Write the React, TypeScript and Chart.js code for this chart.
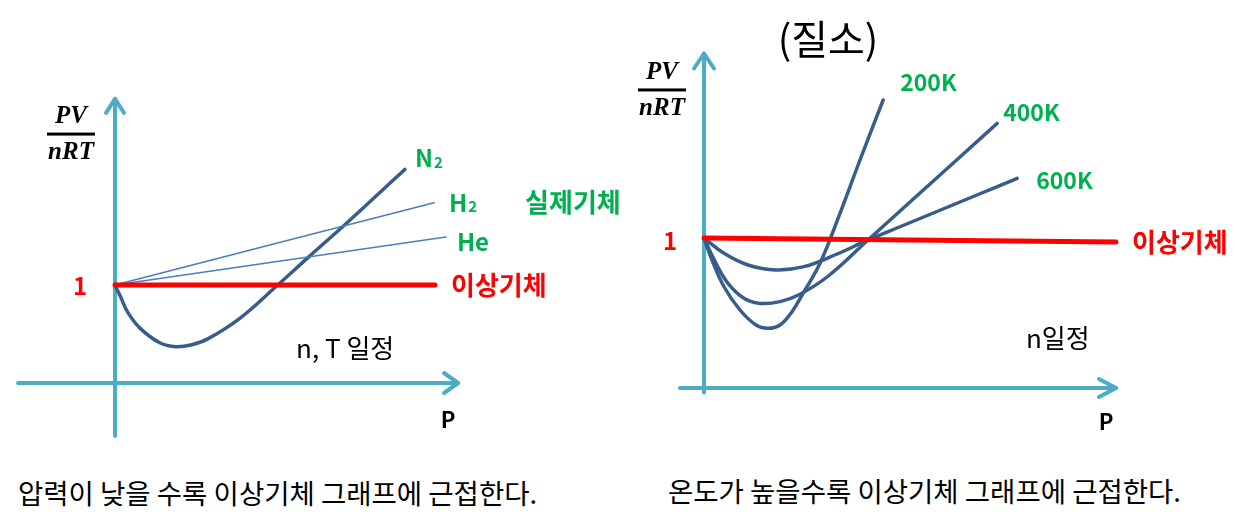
import React, { useRef, useEffect } from "react";
import { Chart, registerables } from "chart.js";

Chart.register(...registerables);

// left panel (n, T constant): P on x, PV/nRT on y
const n2P = [0, 0.16, 0.4, 0.78, 1.4, 1.9, 2.4, 2.9, 3.9, 5.05, 6.1, 7.2, 8.1, 9.06];
const n2Z = [1, 0.89, 0.72, 0.56, 0.41, 0.37, 0.39, 0.45, 0.66, 0.99, 1.3, 1.62, 1.89, 2.18];
const h2P = [0, 9.97];
const h2Z = [1, 1.84];
const heP = [0, 10.34];
const heZ = [1, 1.49];
const idealLeftP = [0, 10];
const idealLeftZ = [1, 1];

// right panel (nitrogen, n constant)
const t200P = [0, 0.2, 0.5, 0.9, 1.3, 1.6, 1.9, 2.2, 2.5, 2.9, 3.4, 3.9, 4.48];
const t200Z = [1, 0.853, 0.675, 0.52, 0.42, 0.398, 0.42, 0.509, 0.642, 0.831, 1.164, 1.52, 1.92];
const t400P = [0, 0.3, 0.6, 1.0, 1.4, 1.9, 2.4, 3.1, 4.1, 5.4, 7.33];
const t400Z = [1, 0.831, 0.698, 0.598, 0.564, 0.576, 0.625, 0.745, 0.987, 1.3, 1.764];
const t600P = [0, 0.5, 1.1, 1.8, 2.5, 3.3, 4.1, 4.9, 5.9, 6.9, 7.83];
const t600Z = [1, 0.898, 0.82, 0.787, 0.809, 0.89, 0.987, 1.075, 1.185, 1.295, 1.398];
const idealRightP = [0, 10.3];
const idealRightZ = [1, 0.973];

const CURVE = "#385D8A";
const THIN = "#4A7EBB";
const RED = "#FF0000";
const GREEN = "#00B050";
const AXIS = "#4BACC6";
const KR = '"Noto Sans CJK KR", "Noto Sans", sans-serif';

const pts = (xs: number[], ys: number[]) => xs.map((x, i) => ({ x, y: ys[i] }));

const line = (xs: number[], ys: number[], color: string, width: number) => ({
  data: pts(xs, ys),
  borderColor: color,
  borderWidth: width,
  pointRadius: 0,
  fill: false,
  tension: 0.4,
  borderCapStyle: "round" as const,
});

type Label = {
  text: string;
  sub?: string;
  color: string;
  font: string;
  ds?: number; // anchor at last point of this dataset
  at?: [number, number]; // anchor in data units
  dx: number;
  dy: number;
  align?: CanvasTextAlign;
};

type PanelProps = {
  left: number;
  datasets: any[];
  xRange: [number, number];
  yRange: [number, number];
  axisX: [number, number];
  axisY: [number, number];
  arrowX: [number, number];
  arrowY: [number, number];
  fracDx: number;
  fracY: number;
  labels: Label[];
};

const W = 623;
const H = 460;

const Panel = (props: PanelProps) => {
  const canvasRef = useRef<HTMLCanvasElement>(null);
  const chartRef = useRef<Chart | null>(null);

  useEffect(() => {
    const canvas = canvasRef.current;
    if (!canvas) return;
    const ctx = canvas.getContext("2d");
    if (!ctx) return;
    if (chartRef.current) chartRef.current.destroy();

    const decor = {
      id: "decor",
      beforeDatasetsDraw(chart: any) {
        const c = chart.ctx;
        const sx = chart.scales.x;
        const sy = chart.scales.y;
        const x0 = sx.getPixelForValue(0);
        const y0 = sy.getPixelForValue(0);
        c.save();
        c.strokeStyle = AXIS;
        c.lineWidth = 4;
        c.lineCap = "round";
        c.lineJoin = "round";
        // x axis
        const xa = sx.getPixelForValue(props.axisX[0]);
        const xb = sx.getPixelForValue(props.axisX[1]);
        c.beginPath();
        c.moveTo(xa, y0);
        c.lineTo(xb, y0);
        c.stroke();
        c.beginPath();
        c.moveTo(xb - props.arrowX[0], y0 - props.arrowX[1]);
        c.lineTo(xb, y0);
        c.lineTo(xb - props.arrowX[0], y0 + props.arrowX[1]);
        c.stroke();
        // y axis
        const ya = sy.getPixelForValue(props.axisY[0]);
        const yb = sy.getPixelForValue(props.axisY[1]);
        c.beginPath();
        c.moveTo(x0, ya);
        c.lineTo(x0, yb);
        c.stroke();
        c.beginPath();
        c.moveTo(x0 - props.arrowY[0], yb + props.arrowY[1]);
        c.lineTo(x0, yb);
        c.lineTo(x0 + props.arrowY[0], yb + props.arrowY[1]);
        c.stroke();
        c.restore();
      },
      afterDatasetsDraw(chart: any) {
        const c = chart.ctx;
        const sx = chart.scales.x;
        const sy = chart.scales.y;
        c.save();
        c.textBaseline = "middle";
        props.labels.forEach((l) => {
          let px = 0;
          let py = 0;
          if (l.ds !== undefined) {
            const d = chart.data.datasets[l.ds].data;
            const last = d[d.length - 1];
            px = sx.getPixelForValue(last.x);
            py = sy.getPixelForValue(last.y);
          } else if (l.at) {
            px = sx.getPixelForValue(l.at[0]);
            py = sy.getPixelForValue(l.at[1]);
          }
          c.fillStyle = l.color;
          c.font = l.font;
          c.textAlign = l.align || "left";
          c.fillText(l.text, px + l.dx, py + l.dy);
          if (l.sub) {
            const w = c.measureText(l.text).width;
            c.font = l.font.replace(/\d+px/, (m: string) => Math.round(parseInt(m) * 0.62) + "px");
            c.fillText(l.sub, px + l.dx + w + 1, py + l.dy + 4);
          }
        });
        // PV / nRT
        const fx = sx.getPixelForValue(0) + props.fracDx;
        const fy = sy.getPixelForValue(props.fracY);
        c.fillStyle = "#000";
        c.textAlign = "center";
        c.textBaseline = "alphabetic";
        c.font = 'italic bold 25px "Liberation Serif", "DejaVu Serif", serif';
        c.fillText("PV", fx, fy - 11);
        c.fillText("nRT", fx, fy + 25);
        c.fillRect(fx - 24, fy - 1.5, 48, 3);
        c.restore();
      },
    };

    chartRef.current = new Chart(ctx, {
      type: "line",
      data: { datasets: props.datasets },
      options: {
        responsive: false,
        animation: false,
        layout: { padding: 0 },
        plugins: { legend: { display: false }, tooltip: { enabled: false } },
        scales: {
          x: { type: "linear", min: props.xRange[0], max: props.xRange[1], display: false },
          y: { type: "linear", min: props.yRange[0], max: props.yRange[1], display: false },
        },
      },
      plugins: [decor],
    });

    return () => {
      chartRef.current?.destroy();
      chartRef.current = null;
    };
  }, []);

  return (
    <canvas
      ref={canvasRef}
      width={W}
      height={H}
      style={{ position: "absolute", left: props.left, top: 0, width: W, height: H, display: "block" }}
    />
  );
};

const krBold = `bold 26px ${KR}`;
const latin = `bold 24px ${KR}`;
const kelvin = `bold 23px ${KR}`;

const App = () => {
  const leftSets = [
    line(idealLeftP, idealLeftZ, RED, 5),
    line(h2P, h2Z, THIN, 1.6),
    line(heP, heZ, THIN, 1.6),
    line(n2P, n2Z, CURVE, 3.5),
  ];
  const rightSets = [
    line(idealRightP, idealRightZ, RED, 5),
    line(t200P, t200Z, CURVE, 3.5),
    line(t400P, t400Z, CURVE, 3.5),
    line(t600P, t600Z, CURVE, 3.5),
  ];

  const leftLabels: Label[] = [
    { text: "N", sub: "2", color: GREEN, font: latin, ds: 3, dx: 10, dy: -11 },
    { text: "H", sub: "2", color: GREEN, font: latin, ds: 1, dx: 15, dy: 0 },
    { text: "He", color: GREEN, font: latin, ds: 2, dx: 11, dy: 5 },
    { text: "실제기체", color: GREEN, font: krBold, ds: 1, dx: 91, dy: -1 },
    { text: "이상기체", color: RED, font: krBold, ds: 0, dx: 16, dy: 0 },
    { text: "1", color: RED, font: latin, at: [0, 1], dx: -35, dy: 1, align: "center" },
    { text: "n, T 일정", color: "#000", font: `26px ${KR}`, at: [5.66, 0.36], dx: 0, dy: 0 },
    { text: "P", color: "#000", font: `bold 22px ${KR}`, at: [10.72, 0], dx: -10, dy: 37, align: "center" },
  ];
  const rightLabels: Label[] = [
    { text: "200K", color: GREEN, font: kelvin, ds: 1, dx: 17, dy: -18 },
    { text: "400K", color: GREEN, font: kelvin, ds: 2, dx: 6, dy: -11 },
    { text: "600K", color: GREEN, font: kelvin, ds: 3, dx: 19, dy: 2 },
    { text: "이상기체", color: RED, font: krBold, ds: 0, dx: 16, dy: 0 },
    { text: "1", color: RED, font: latin, at: [0, 1], dx: -34, dy: 3, align: "center" },
    { text: "(질소)", color: "#000", font: `40px ${KR}`, at: [0, 2.33], dx: 124, dy: 0, align: "center" },
    { text: "n일정", color: "#000", font: `26px ${KR}`, at: [8.05, 0.333], dx: 0, dy: 0 },
    { text: "P", color: "#000", font: `bold 22px ${KR}`, at: [10.3, 0], dx: -10, dy: 34, align: "center" },
  ];

  const caption: React.CSSProperties = {
    position: "absolute",
    fontFamily: KR,
    fontSize: 27.5,
    lineHeight: "30px",
    color: "#000",
    whiteSpace: "nowrap",
  };

  return (
    <div style={{ position: "absolute", left: 0, top: 0, width: 1246, height: 521, background: "#fff", overflow: "hidden" }}>
      <Panel
        left={0}
        datasets={leftSets}
        xRange={[-115 / 32, (W - 115) / 32]}
        yRange={[-(H - 383) / 98, 383 / 98]}
        axisX={[-3.03, 10.72]}
        axisY={[-0.54, 2.9]}
        arrowX={[14, 10]}
        arrowY={[9, 14]}
        fracDx={-44}
        fracY={2.54}
        labels={leftLabels}
      />
      <Panel
        left={623}
        datasets={rightSets}
        xRange={[-81 / 40, (W - 81) / 40]}
        yRange={[-(H - 388) / 150, 388 / 150]}
        axisX={[-0.6, 10.3]}
        axisY={[-0.03, 2.23]}
        arrowX={[17, 9]}
        arrowY={[10, 15]}
        fracDx={-42}
        fracY={1.987}
        labels={rightLabels}
      />
      <div style={{ ...caption, left: 18, top: 477 }}>압력이 낮을 수록 이상기체 그래프에 근접한다.</div>
      <div style={{ ...caption, left: 668, top: 475 }}>온도가 높을수록 이상기체 그래프에 근접한다.</div>
    </div>
  );
};

export default App;
